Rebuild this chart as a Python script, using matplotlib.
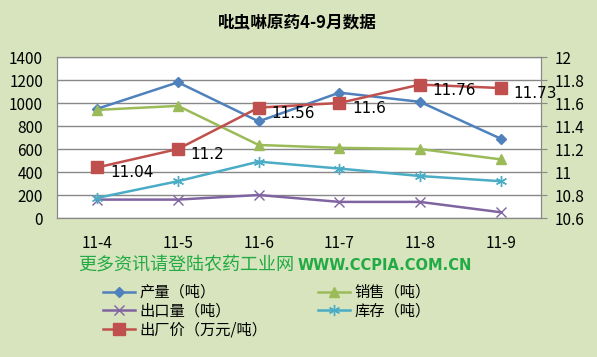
import matplotlib
matplotlib.use("Agg")
import matplotlib.pyplot as plt

plt.rcParams['font.family'] = ['Noto Sans CJK SC', 'DejaVu Sans']

months = ['11-4', '11-5', '11-6', '11-7', '11-8', '11-9']
output_t = [950, 1180, 840, 1090, 1010, 690]
sales_t = [940, 975, 635, 610, 600, 510]
export_t = [160, 160, 200, 140, 140, 50]
stock_t = [175, 320, 490, 430, 365, 320]
price = [11.04, 11.2, 11.56, 11.6, 11.76, 11.73]

bg = '#D7E4BD'
fig = plt.figure(figsize=(5.97, 3.57), dpi=100, facecolor=bg)
W, H = 597, 357
ax = fig.add_axes([57 / W, 1 - 218 / H, (541 - 57) / W, (218 - 57) / H])
ax.set_facecolor('white')
x = list(range(len(months)))

l1, = ax.plot(x, output_t, color='#4F81BD', lw=1.8, marker='D', ms=5.5, label='产量（吨）')
l2, = ax.plot(x, sales_t, color='#9BBB59', lw=1.8, marker='^', ms=7, label='销售（吨）')
l3, = ax.plot(x, export_t, color='#8064A2', lw=1.8, marker='x', ms=7, mew=1, label='出口量（吨）')
l4, = ax.plot(x, stock_t, color='#4BACC6', lw=1.8, marker=(6, 2, 0), ms=8, mew=1, label='库存（吨）')
ax.set_ylim(0, 1400)
ax.set_yticks(range(0, 1401, 200))
ax.set_xlim(-0.5, 5.5)
ax.set_xticks(x)
ax.set_xticklabels(months)
ax.grid(axis='y', color='#888888', lw=1)
ax.set_axisbelow(True)

ax2 = ax.twinx()
l5, = ax2.plot(x, price, color='#C0504D', lw=1.8, marker='s', ms=8, label='出厂价（万元/吨）')
ax2.set_ylim(10.6, 12)
ax2.set_yticks([10.6, 10.8, 11, 11.2, 11.4, 11.6, 11.8, 12])
ax2.set_yticklabels(['10.6', '10.8', '11', '11.2', '11.4', '11.6', '11.8', '12'])
for xi, p in zip(x, price):
    ax2.annotate(f'{p:g}', (xi, p), xytext=(9, -4), textcoords='offset points',
                 fontsize=11, va='center', ha='left', family='DejaVu Sans')

for a in (ax, ax2):
    for s in a.spines.values():
        s.set_color('#888888')
    a.tick_params(labelsize=11, length=0, colors='black')
ax.tick_params(axis='y', pad=10)
ax2.tick_params(axis='y', length=4, direction='out', pad=6, colors='#888888', labelcolor='black')
ax.tick_params(axis='x', pad=12)

fig.text(297 / W, 1 - 22 / H, '吡虫啉原药4-9月数据', ha='center', va='center',
         fontsize=12, fontweight='bold')
fig.text(78 / W, 1 - 266 / H, '更多资讯请登陆农药工业网', ha='left', va='center',
         fontsize=13, color='#22AA44')
fig.text(298 / W, 1 - 266 / H, 'WWW.CCPIA.COM.CN', ha='left', va='center',
         fontsize=10.5, fontweight='bold', color='#22AA44', family='DejaVu Sans')

leg_kw = dict(loc='upper left', frameon=False, fontsize=11, handlelength=2.1,
              handletextpad=0.3, labelspacing=0.12, borderaxespad=0, borderpad=0)
leg1 = fig.legend(handles=[l1, l3, l5], bbox_to_anchor=(103 / W, 1 - 284 / H), **leg_kw)
leg2 = fig.legend(handles=[l2, l4], bbox_to_anchor=(318 / W, 1 - 284 / H), **leg_kw)

fig.savefig('out.png', dpi=100, facecolor=bg)
